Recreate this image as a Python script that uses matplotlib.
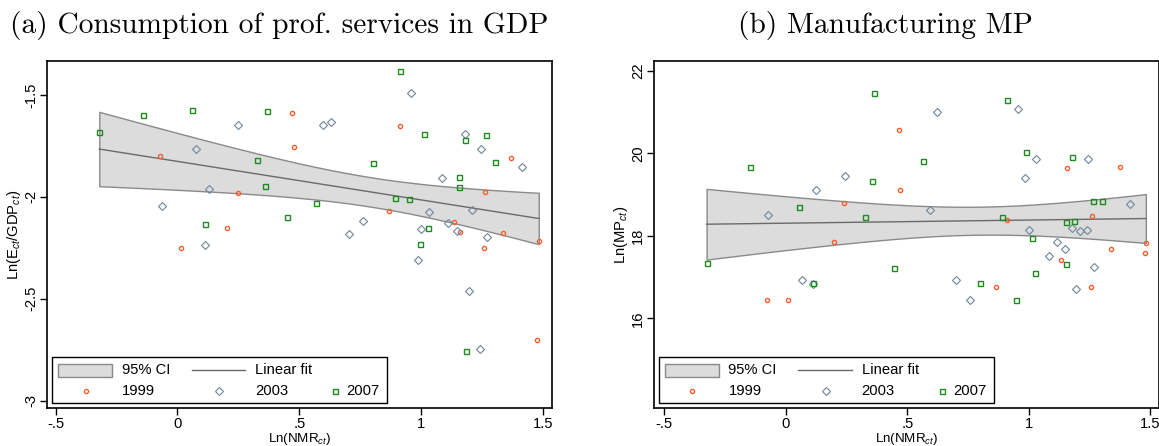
import numpy as np
import matplotlib.pyplot as plt
import matplotlib.transforms as mtransforms
from matplotlib.patches import Rectangle
from matplotlib.lines import Line2D
from matplotlib.ticker import FixedLocator, FuncFormatter

plt.rcParams['font.family'] = ['Liberation Sans', 'DejaVu Sans']
plt.rcParams['mathtext.fontset'] = 'custom'
plt.rcParams['mathtext.rm'] = 'Liberation Sans'
plt.rcParams['mathtext.it'] = 'Liberation Sans:italic'

# (a) ln(E/GDP) against ln(NMR), one series per year
a_x99 = [-0.072, 0.247, 0.202, 0.471, 0.914, 0.477, 1.263, 0.869, 1.135, 1.159,
         1.483, 1.336, 1.371, 0.013, 1.260, 1.475]
a_y99 = [-1.798, -1.981, -2.154, -1.588, -1.654, -1.755, -1.974, -2.071, -2.123, -2.174,
         -2.215, -2.177, -1.808, -2.250, -2.251, -2.702]
a_x03 = [0.250, 0.075, 0.131, -0.065, 0.957, 0.599, 0.629, 1.180, 1.247, 1.087,
         1.211, 1.031, 0.763, 1.110, 1.001, 1.146, 0.704, 1.271, 1.413, 0.114,
         0.987, 1.196, 1.241]
a_y03 = [-1.646, -1.765, -1.961, -2.045, -1.489, -1.646, -1.634, -1.691, -1.765, -1.907,
         -2.063, -2.074, -2.120, -2.127, -2.159, -2.167, -2.182, -2.198, -1.852, -2.236,
         -2.308, -2.463, -2.748]
a_x07 = [-0.321, -0.140, 0.060, 0.369, 0.328, 0.359, 0.114, 0.912, 1.013, 1.181,
         1.266, 1.304, 0.802, 1.157, 1.157, 0.893, 0.951, 0.569, 0.448, 1.027,
         0.994, 1.185]
a_y07 = [-1.680, -1.597, -1.572, -1.578, -1.817, -1.948, -2.134, -1.382, -1.693, -1.722,
         -1.698, -1.829, -1.835, -1.901, -1.950, -2.004, -2.009, -2.031, -2.099, -2.153,
         -2.229, -2.755]

# (b) ln(MP) against ln(NMR)
b_x99 = [0.240, 0.467, 0.471, 1.157, 0.911, 1.261, 1.373, 1.481, 1.477, 1.338,
         0.197, -0.078, 0.007, 1.131, 0.866, 1.256]
b_y99 = [18.801, 20.563, 19.116, 19.649, 18.389, 18.471, 19.659, 17.825, 17.590, 17.687,
         17.845, 16.436, 16.436, 17.413, 16.758, 16.758]
b_x03 = [0.243, 0.124, -0.072, 0.623, 0.954, 1.029, 0.984, 1.244, 0.594, 1.177,
         1.209, 1.239, 0.999, 1.416, 1.114, 1.148, 0.068, 0.112, 1.084, 1.269,
         0.699, 0.758, 1.195]
b_y03 = [19.455, 19.101, 18.510, 20.992, 21.079, 19.867, 19.400, 19.867, 18.632, 18.195,
         18.115, 18.132, 18.140, 18.777, 17.841, 17.687, 16.921, 16.840, 17.517, 17.250,
         16.921, 16.451, 16.717]
b_x07 = [-0.146, 0.054, 0.324, 0.354, 0.361, -0.326, 0.563, 0.909, 0.989, 1.179,
         0.889, 1.264, 1.302, 1.154, 1.184, 1.014, 0.110, 1.154, 0.444, 1.024,
         0.799, 0.948]
b_y07 = [19.666, 18.690, 18.455, 19.320, 21.466, 17.340, 19.811, 21.290, 20.022, 19.901,
         18.455, 18.842, 18.842, 18.341, 18.365, 17.953, 16.863, 17.308, 17.219, 17.106,
         16.863, 16.451]

x_ticks = [-0.5, 0, 0.5, 1, 1.5]
a_yticks = [-1.5, -2, -2.5, -3]
b_yticks = [16, 18, 20, 22]
years = ['1999', '2003', '2007']
titles = ['(a) Consumption of prof. services in GDP', '(b) Manufacturing MP']
ylabels = [r'Ln(E$_{ct}$/GDP$_{ct}$)', r'Ln(MP$_{ct}$)']
xlabel = r'Ln(NMR$_{ct}$)'

C99, C03, C07 = '#f4602e', '#6f869b', '#1f8a1f'
styles = [dict(marker='o', ms=3.0, mec=C99, mew=1.0),
          dict(marker='D', ms=3.6, mec=C03, mew=0.8),
          dict(marker='s', ms=3.6, mec=C07, mew=1.0)]
T975 = 2.001  # t quantile, ~59 df


def stata_fmt(v, pos=None):
    s = f'{v:g}'
    return s.replace('0.', '.') if abs(v) < 1 else s


def lfitci(xs, ys):
    x = np.concatenate(xs)
    y = np.concatenate(ys)
    n = len(x)
    b, a = np.polyfit(x, y, 1)
    resid = y - (a + b * x)
    s2 = resid @ resid / (n - 2)
    sxx = ((x - x.mean()) ** 2).sum()
    grid = np.linspace(x.min(), x.max(), 100)
    fit = a + b * grid
    se = np.sqrt(s2 * (1 / n + (grid - x.mean()) ** 2 / sxx))
    return grid, fit, fit - T975 * se, fit + T975 * se


def draw_legend(ax):
    # key box laid out in pixel offsets from the axes' lower-left corner
    ox, oy = ax.transAxes.transform((0, 0))
    tr = mtransforms.Affine2D().translate(ox, oy)
    ax.add_artist(Rectangle((5, 5), 335, 46, transform=tr, fc='white', ec='black',
                            lw=1.0, zorder=10, clip_on=False))
    ax.add_artist(Rectangle((10.6, 31.5), 54, 13, transform=tr, fc='#dcdcdc',
                            ec='#8a8a8a', lw=1.0, zorder=11, clip_on=False))
    ax.add_artist(Line2D([144.3, 197.6], [38, 38], transform=tr, color='#6a6a6a',
                         lw=1.0, zorder=11, clip_on=False))
    for (mx, tx), st, lab in zip([(38.3, 74.3), (171.6, 207.6), (287.9, 299.3)], styles, years):
        ax.add_artist(Line2D([mx], [17.3], transform=tr, ls='none', mfc='none',
                             zorder=11, clip_on=False, **st))
        ax.text(tx, 17.3, lab, transform=tr, va='center', ha='left', fontsize=10.6, zorder=12)
    ax.text(74.3, 38, '95% CI', transform=tr, va='center', ha='left', fontsize=10.6, zorder=12)
    ax.text(207.6, 38, 'Linear fit', transform=tr, va='center', ha='left', fontsize=10.6, zorder=12)


fig = plt.figure(figsize=(11.59, 4.46), dpi=100)
ax_a = fig.add_axes([47.4 / 1159, 38 / 446, 504.5 / 1159, 347 / 446])
ax_b = fig.add_axes([654.1 / 1159, 38 / 446, 504.4 / 1159, 347 / 446])

panels = [
    (ax_a, [a_x99, a_x03, a_x07], [a_y99, a_y03, a_y07], a_yticks, (-0.534, 1.537), (-3.036, -1.333)),
    (ax_b, [b_x99, b_x03, b_x07], [b_y99, b_y03, b_y07], b_yticks, (-0.542, 1.533), (13.83, 22.235)),
]

for i, (ax, xs, ys, yt, xlim, ylim) in enumerate(panels):
    grid, fit, lo, hi = lfitci(xs, ys)
    ax.fill_between(grid, lo, hi, facecolor='#dcdcdc', edgecolor='#8a8a8a', lw=1.0, zorder=1)
    ax.plot(grid, fit, color='#6a6a6a', lw=1.0, zorder=2)
    for x, y, st in zip(xs, ys, styles):
        ax.plot(x, y, ls='none', mfc='none', zorder=3, **st)

    ax.set_xlim(*xlim)
    ax.set_ylim(*ylim)
    ax.xaxis.set_major_locator(FixedLocator(x_ticks))
    ax.yaxis.set_major_locator(FixedLocator(yt))
    ax.xaxis.set_major_formatter(FuncFormatter(stata_fmt))
    ax.yaxis.set_major_formatter(FuncFormatter(stata_fmt))
    ax.tick_params(direction='out', length=5, width=1.0, labelsize=10.6, color='black')
    ax.tick_params(axis='x', pad=1.5)
    ax.tick_params(axis='y', pad=1.5)
    for lab in ax.get_yticklabels():
        lab.set_rotation(90)
        lab.set_va('center')
    for sp in ax.spines.values():
        sp.set_linewidth(1.2)
    ax.set_xlabel(xlabel, fontsize=9.6, labelpad=0)
    ax.set_ylabel(ylabels[i], fontsize=10.6, labelpad=1)
    draw_legend(ax)

fig.text(279 / 1159, 1 - 26 / 446, titles[0], family='cmr10', fontsize=21.2, ha='center', va='center')
fig.text(885 / 1159, 1 - 26 / 446, titles[1], family='cmr10', fontsize=21.2, ha='center', va='center')

fig.savefig('out.png', dpi=100)
